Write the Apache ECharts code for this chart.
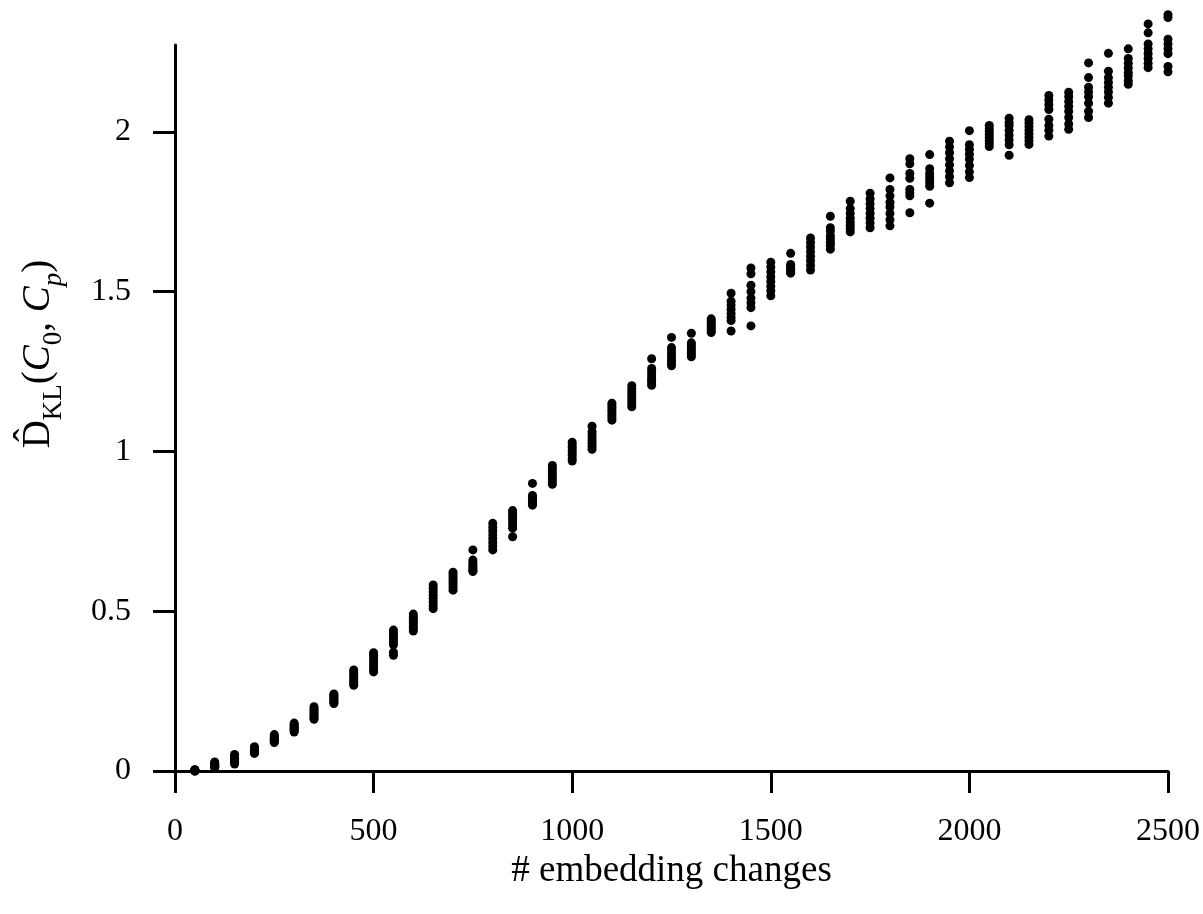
<!DOCTYPE html>
<html>
<head>
<meta charset="utf-8">
<script src="https://cdn.jsdelivr.net/npm/echarts@6/dist/echarts.min.js"></script>
<style>
html,body{margin:0;padding:0;background:#fff;}
#chart{width:1203px;height:914px;}
</style>
</head>
<body>
<div id="chart"></div>
<script>
// number of embedding changes (x positions of the columns)
const embeddingChanges = [50,100,150,200,250,300,350,400,450,500,
  550,600,650,700,750,800,850,900,950,1000,
  1050,1100,1150,1200,1250,1300,1350,1400,1450,1500,
  1550,1600,1650,1700,1750,1800,1850,1900,1950,2000,
  2050,2100,2150,2200,2250,2300,2350,2400,2450,2500];

// estimated D_KL values, one array per repetition
const run1 = [0.004,0.028,0.052,0.076,0.114,0.150,0.201,0.241,0.316,0.370,
  0.441,0.491,0.582,0.622,0.692,0.775,0.815,0.900,0.956,1.029,
  1.079,1.151,1.206,1.290,1.357,1.370,1.415,1.495,1.574,1.592,
  1.620,1.668,1.736,1.783,1.808,1.856,1.916,1.929,1.971,2.004,
  2.020,2.043,2.038,2.114,2.124,2.216,2.246,2.260,2.338,2.367];
const run2 = [0.003,0.025,0.048,0.073,0.110,0.146,0.195,0.237,0.309,0.362,
  0.432,0.483,0.572,0.614,0.660,0.763,0.806,0.862,0.947,1.020,
  1.062,1.143,1.196,1.260,1.325,1.340,1.409,1.470,1.556,1.577,
  1.585,1.654,1.700,1.760,1.790,1.820,1.900,1.885,1.953,1.960,
  2.010,2.030,2.027,2.100,2.110,2.170,2.190,2.230,2.310,2.358];
const run3 = [0.002,0.022,0.044,0.070,0.106,0.142,0.189,0.233,0.302,0.353,
  0.424,0.475,0.561,0.606,0.652,0.751,0.797,0.856,0.939,1.012,
  1.052,1.136,1.187,1.250,1.315,1.333,1.402,1.458,1.520,1.562,
  1.580,1.640,1.690,1.745,1.775,1.800,1.870,1.870,1.935,1.945,
  2.001,2.020,2.016,2.085,2.095,2.140,2.170,2.215,2.275,2.290];
const run4 = [0.002,0.020,0.040,0.067,0.102,0.138,0.183,0.228,0.295,0.344,
  0.415,0.468,0.550,0.598,0.645,0.739,0.788,0.850,0.930,1.003,
  1.043,1.128,1.177,1.240,1.305,1.325,1.396,1.445,1.500,1.547,
  1.575,1.625,1.675,1.730,1.760,1.780,1.855,1.860,1.916,1.930,
  1.992,2.005,2.005,2.070,2.080,2.125,2.155,2.200,2.260,2.275];
const run5 = [0.001,0.018,0.036,0.064,0.099,0.134,0.177,0.224,0.288,0.335,
  0.405,0.461,0.540,0.590,0.638,0.727,0.779,0.845,0.922,0.995,
  1.034,1.121,1.168,1.230,1.295,1.318,1.390,1.432,1.480,1.532,
  1.570,1.611,1.665,1.718,1.745,1.765,1.820,1.850,1.897,1.915,
  1.982,1.990,1.994,2.040,2.065,2.110,2.140,2.185,2.245,2.260];
const run6 = [0.001,0.015,0.032,0.061,0.096,0.130,0.172,0.220,0.281,0.326,
  0.395,0.453,0.529,0.582,0.632,0.715,0.770,0.840,0.914,0.987,
  1.025,1.113,1.159,1.222,1.285,1.310,1.384,1.420,1.465,1.517,
  1.566,1.597,1.655,1.708,1.730,1.745,1.810,1.840,1.878,1.895,
  1.973,1.975,1.983,2.020,2.045,2.090,2.125,2.175,2.230,2.245];
const run7 = [0.000,0.012,0.027,0.058,0.092,0.126,0.167,0.215,0.274,0.318,
  0.372,0.445,0.518,0.574,0.628,0.703,0.760,0.836,0.905,0.978,
  1.016,1.106,1.149,1.215,1.276,1.303,1.378,1.410,1.450,1.502,
  1.562,1.582,1.645,1.698,1.715,1.725,1.800,1.830,1.860,1.875,
  1.963,1.960,1.972,2.005,2.025,2.065,2.108,2.160,2.215,2.205];
const run8 = [0.000,0.010,0.022,0.055,0.089,0.122,0.162,0.211,0.268,0.310,
  0.362,0.438,0.508,0.566,0.624,0.692,0.733,0.832,0.897,0.970,
  1.007,1.098,1.140,1.207,1.268,1.296,1.372,1.377,1.393,1.487,
  1.558,1.568,1.633,1.687,1.700,1.706,1.747,1.777,1.841,1.857,
  1.954,1.927,1.961,1.987,2.008,2.045,2.090,2.149,2.201,2.188];

const xTicks = [0, 500, 1000, 1500, 2000, 2500];
const yTicks = [0, 0.5, 1, 1.5, 2];
const xTitle = '# embedding changes';

const runs = [run1, run2, run3, run4, run5, run6, run7, run8];
const points = [];
runs.forEach(r => r.forEach((v, i) => points.push([embeddingChanges[i], v])));

const FONT = 'Liberation Serif';
const chart = echarts.init(document.getElementById('chart'), null, {renderer: 'canvas'});
chart.setOption({
  backgroundColor: '#ffffff',
  animation: false,
  grid: {left: 175, right: 35, top: 45, bottom: 143, containLabel: false, outerBoundsMode: 'none'},
  xAxis: {
    type: 'value', min: 0, max: 2500, interval: 500,
    splitLine: {show: false},
    axisLine: {show: true, onZero: false, lineStyle: {color: '#000', width: 3}},
    axisTick: {show: true, length: 22, lineStyle: {color: '#000', width: 3}, customValues: xTicks},
    axisLabel: {color: '#000', fontFamily: FONT, fontSize: 32, margin: 45, customValues: xTicks,
      formatter: v => String(v)},
    name: xTitle, nameLocation: 'middle', nameGap: 80,
    nameTextStyle: {color: '#000', fontFamily: FONT, fontSize: 37}
  },
  yAxis: {
    type: 'value', min: 0, max: 2.272,
    splitLine: {show: false},
    axisLine: {show: true, onZero: false, lineStyle: {color: '#000', width: 3}},
    axisTick: {show: true, length: 22, lineStyle: {color: '#000', width: 3}, customValues: yTicks},
    axisLabel: {color: '#000', fontFamily: FONT, fontSize: 32, margin: 44, customValues: yTicks,
      formatter: v => String(v)},
    name: '{m|D\u0302}{s|KL}{m|(}{i|C}{s|0}{m|, }{i|C}{si|p}{m|)}{sp|\u200b}',
    nameLocation: 'middle', nameGap: 108, nameRotate: 90,
    nameTextStyle: {
      color: '#000', fontFamily: FONT, fontSize: 38,
      padding: [0, 0, 0, 108],
      rich: {
        m: {fontFamily: FONT, fontSize: 39, lineHeight: 39, verticalAlign: 'top', color: '#000'},
        i: {fontFamily: FONT, fontSize: 39, fontStyle: 'italic', lineHeight: 39, verticalAlign: 'top', color: '#000'},
        s: {fontFamily: FONT, fontSize: 27, lineHeight: 27, verticalAlign: 'bottom', color: '#000'},
        si: {fontFamily: FONT, fontSize: 27, fontStyle: 'italic', lineHeight: 27, verticalAlign: 'bottom', color: '#000'},
        sp: {fontSize: 10, lineHeight: 48}
      }
    }
  },
  series: [{
    type: 'scatter',
    data: points,
    symbol: 'circle',
    symbolSize: 9,
    clip: false,
    itemStyle: {color: '#000', opacity: 1},
    emphasis: {disabled: true}
  }]
});
</script>
</body>
</html>
